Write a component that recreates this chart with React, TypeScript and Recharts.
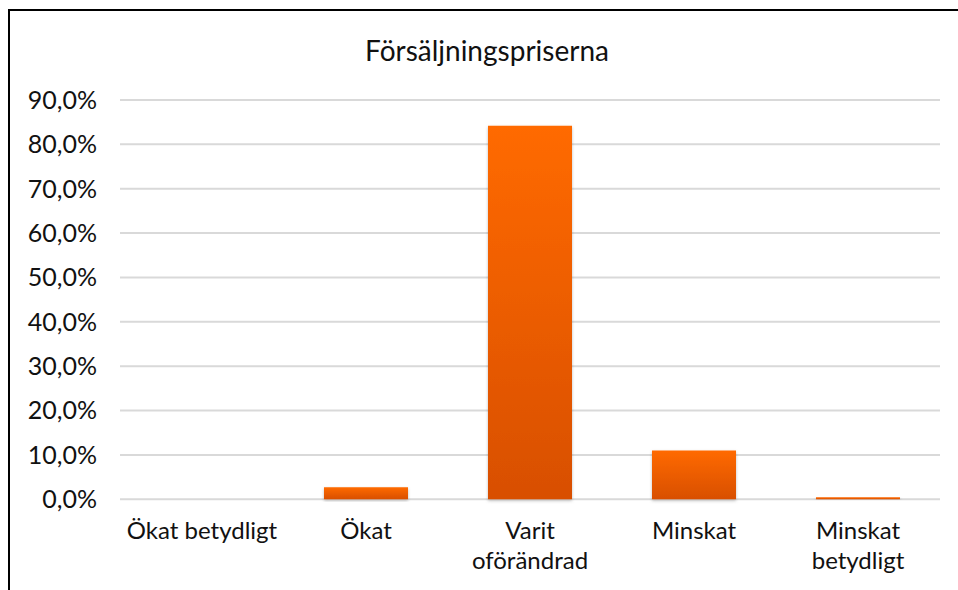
import React from "react";
import { BarChart, Bar, XAxis, YAxis, CartesianGrid } from "recharts";

const categories = ["Ökat betydligt", "Ökat", "Varit\noförändrad", "Minskat", "Minskat\nbetydligt"];
const values = [0, 2.7, 84.2, 11.0, 0.45];
const yTicks = [0, 10, 20, 30, 40, 50, 60, 70, 80, 90];
const title = "Försäljningspriserna";

const data = categories.map((c, i) => ({ name: c, value: values[i] }));

const FONT = "Lato, 'Noto Sans', sans-serif";

const fmt = (v: number) => v.toFixed(1).replace(".", ",") + "%";

const XTick = (props: any) => {
  const { x, y, payload } = props;
  const lines = String(payload.value).split("\n");
  return (
    <text x={x} y={y} textAnchor="middle" fill="#111" fontSize={24} fontFamily={FONT}>
      {lines.map((l, i) => (
        <tspan key={i} x={x} dy={i === 0 ? 32 : 30}>
          {l}
        </tspan>
      ))}
    </text>
  );
};

export default function App() {
  return (
    <div
      style={{
        position: "relative",
        width: 958,
        height: 590,
        overflow: "hidden",
        background: "#fff",
      }}
    >
      <style>{"html,body{margin:0;padding:0;overflow:hidden;}"}</style>
      <div
        style={{
          position: "absolute",
          left: 8,
          top: 9,
          width: 950,
          height: 581,
          borderTop: "2px solid #000",
          borderLeft: "2px solid #000",
          boxSizing: "border-box",
        }}
      />
      <div
        style={{
          position: "absolute",
          left: 8,
          top: 33,
          width: 958,
          textAlign: "center",
          fontFamily: FONT,
          fontSize: 28,
          color: "#111",
          lineHeight: "34px",
        }}
      >
        {title}
      </div>
      <div style={{ position: "absolute", left: 8, top: 8 }}>
        <BarChart
          width={950}
          height={582}
          data={data}
          margin={{ top: 92, right: 18, bottom: 0, left: 0 }}
        >
          <defs>
            <linearGradient id="barGrad" x1="0" y1="0" x2="0" y2="1">
              <stop offset="0%" stopColor="#FF6A00" />
              <stop offset="100%" stopColor="#D84F00" />
            </linearGradient>
            <filter id="barShadow" x="-10%" y="-10%" width="120%" height="130%">
              <feDropShadow dx="0" dy="1.5" stdDeviation="1.5" floodColor="#000" floodOpacity="0.25" />
            </filter>
          </defs>
          <CartesianGrid vertical={false} stroke="#D9D9D9" strokeWidth={2} />
          <XAxis
            dataKey="name"
            axisLine={false}
            tickLine={false}
            height={90.7}
            interval={0}
            tick={<XTick />}
          />
          <YAxis
            width={112}
            domain={[0, 90]}
            ticks={yTicks}
            axisLine={false}
            tickLine={false}
            tickSize={0}
            tickMargin={23}
            tickFormatter={fmt}
            tick={{ fill: "#111", fontSize: 25, fontFamily: FONT }}
          />
          <Bar
            dataKey="value"
            fill="url(#barGrad)"
            barSize={84}
            isAnimationActive={false}
            style={{ filter: "url(#barShadow)" }}
          />
        </BarChart>
      </div>
    </div>
  );
}
